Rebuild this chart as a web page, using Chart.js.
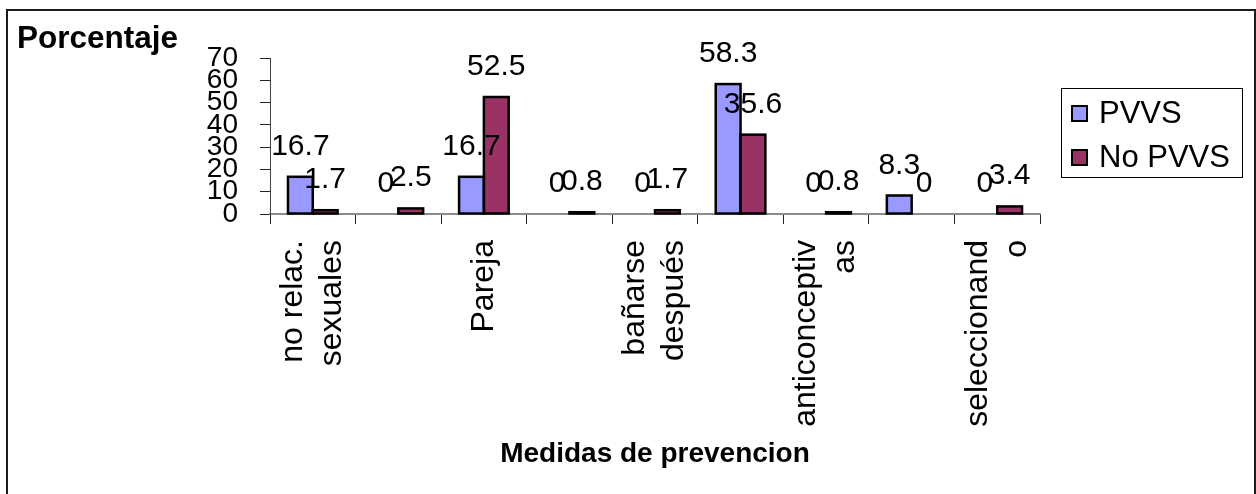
<!DOCTYPE html>
<html>
<head>
<meta charset="utf-8">
<script src="https://cdn.jsdelivr.net/npm/chart.js@4.4.1/dist/chart.umd.min.js"></script>
<style>
  html, body { margin: 0; padding: 0; background: #fff; overflow: hidden; }
  #frame { position: absolute; left: 6px; top: 9px; width: 1246px; height: 600px; border: 2px solid #1a1a1a; }
  #chart { position: absolute; left: 0; top: 0; }
</style>
</head>
<body>
<div id="frame"></div>
<canvas id="chart" width="1256" height="494"></canvas>
<script>
const FONT = '"Liberation Sans", Arial, sans-serif';

// medidas de prevencion (only every other one gets a label on the axis)
const categories = [
  ['no relac.', 'sexuales'], '', 'Pareja', '', ['bañarse', 'después'],
  '', ['anticonceptiv', 'as'], '', ['seleccionand', 'o']
];
const seriesNames = ['PVVS', 'No PVVS'];
const pvvs = [16.7, 0, 16.7, 0, 0, 58.3, 0, 8.3, 0];
const noPvvs = [1.7, 2.5, 52.5, 0.8, 1.7, 35.6, 0.8, 0, 3.4];
const yTicks = [0, 10, 20, 30, 40, 50, 60, 70];

const colors = ['#9999FF', '#993366'];

// bar outlines, value labels, category labels, legend box and the heading
const extras = {
  id: 'extras',
  afterDatasetsDraw(chart) {
    const ctx = chart.ctx;
    ctx.save();

    // outline straddles the bar edge, so thin bars read as black
    ctx.strokeStyle = '#000';
    ctx.lineWidth = 2.5;
    chart.data.datasets.forEach((ds, i) => {
      chart.getDatasetMeta(i).data.forEach((bar, j) => {
        if (!ds.data[j]) return;
        const { x, y, base, width } = bar.getProps(['x', 'y', 'base', 'width'], true);
        ctx.strokeRect(x - width / 2, y, width, base - y);
      });
    });

    ctx.font = '30px ' + FONT;
    ctx.fillStyle = '#000';
    ctx.textAlign = 'center';
    ctx.textBaseline = 'alphabetic';
    chart.data.datasets.forEach((ds, i) => {
      chart.getDatasetMeta(i).data.forEach((bar, j) => {
        ctx.fillText(String(ds.data[j]), bar.x, bar.y - 22);
      });
    });
    ctx.restore();
  },
  afterDraw(chart) {
    const ctx = chart.ctx;
    const x = chart.scales.x;

    ctx.save();
    ctx.fillStyle = '#000';

    // rotated category labels, lines centred on the category
    ctx.font = '32px ' + FONT;
    const lh = 39;
    categories.forEach((label, i) => {
      const lines = Array.isArray(label) ? label : [label];
      const px = x.getPixelForTick(i);
      ctx.save();
      ctx.translate(px, x.top + 26);
      ctx.rotate(-Math.PI / 2);
      ctx.textAlign = 'right';
      ctx.textBaseline = 'middle';
      lines.forEach((t, k) => ctx.fillText(t, 0, (k - (lines.length - 1) / 2) * lh));
      ctx.restore();
    });

    // heading
    ctx.font = 'bold 31.5px ' + FONT;
    ctx.textAlign = 'left';
    ctx.textBaseline = 'alphabetic';
    ctx.fillText('Porcentaje', 17, 48);

    // legend
    ctx.lineWidth = 1;
    ctx.strokeStyle = '#000';
    ctx.strokeRect(1061.5, 88.5, 181, 89);
    ctx.font = '31px ' + FONT;
    ctx.textBaseline = 'middle';
    chart.data.datasets.forEach((ds, i) => {
      const cy = 113 + i * 44;
      ctx.fillStyle = ds.backgroundColor;
      ctx.fillRect(1072, cy - 7, 15, 15);
      ctx.lineWidth = 2;
      ctx.strokeRect(1072, cy - 7, 15, 15);
      ctx.fillStyle = '#000';
      ctx.fillText(ds.label, 1099, cy + 1);
    });
    ctx.restore();
  }
};

const ctx = document.getElementById('chart').getContext('2d');
new Chart(ctx, {
  type: 'bar',
  data: {
    labels: categories,
    datasets: [
      {
        label: seriesNames[0],
        data: pvvs,
        backgroundColor: colors[0],
        borderWidth: 0
      },
      {
        label: seriesNames[1],
        data: noPvvs,
        backgroundColor: colors[1],
        borderWidth: 0
      }
    ]
  },
  options: {
    responsive: false,
    animation: false,
    barPercentage: 1,
    categoryPercentage: 0.58,
    layout: { padding: { left: 0, top: 58, right: 216, bottom: 0 } },
    plugins: {
      legend: { display: false },
      tooltip: { enabled: false },
      title: { display: false }
    },
    scales: {
      x: {
        afterFit(scale) { scale.height = 280; },
        grid: { drawOnChartArea: false, tickLength: 10, color: '#222' },
        border: { color: '#8c8c8c', width: 2 },
        ticks: { display: false },
        title: {
          display: true,
          text: 'Medidas de prevencion',
          color: '#000',
          font: { family: FONT, size: 28, weight: 'bold' },
          padding: { top: 0, bottom: 23 }
        }
      },
      y: {
        min: yTicks[0],
        max: yTicks[yTicks.length - 1],
        afterFit(scale) { scale.width = 270; },
        afterBuildTicks(scale) { scale.ticks = yTicks.map(v => ({ value: v })); },
        grid: { drawOnChartArea: false, tickLength: 10, color: '#222' },
        border: { color: '#444', width: 1 },
        ticks: {
          autoSkip: false,
          stepSize: 10,
          padding: 22,
          color: '#000',
          font: { family: FONT, size: 28 }
        }
      }
    }
  },
  plugins: [extras]
});
</script>
</body>
</html>
